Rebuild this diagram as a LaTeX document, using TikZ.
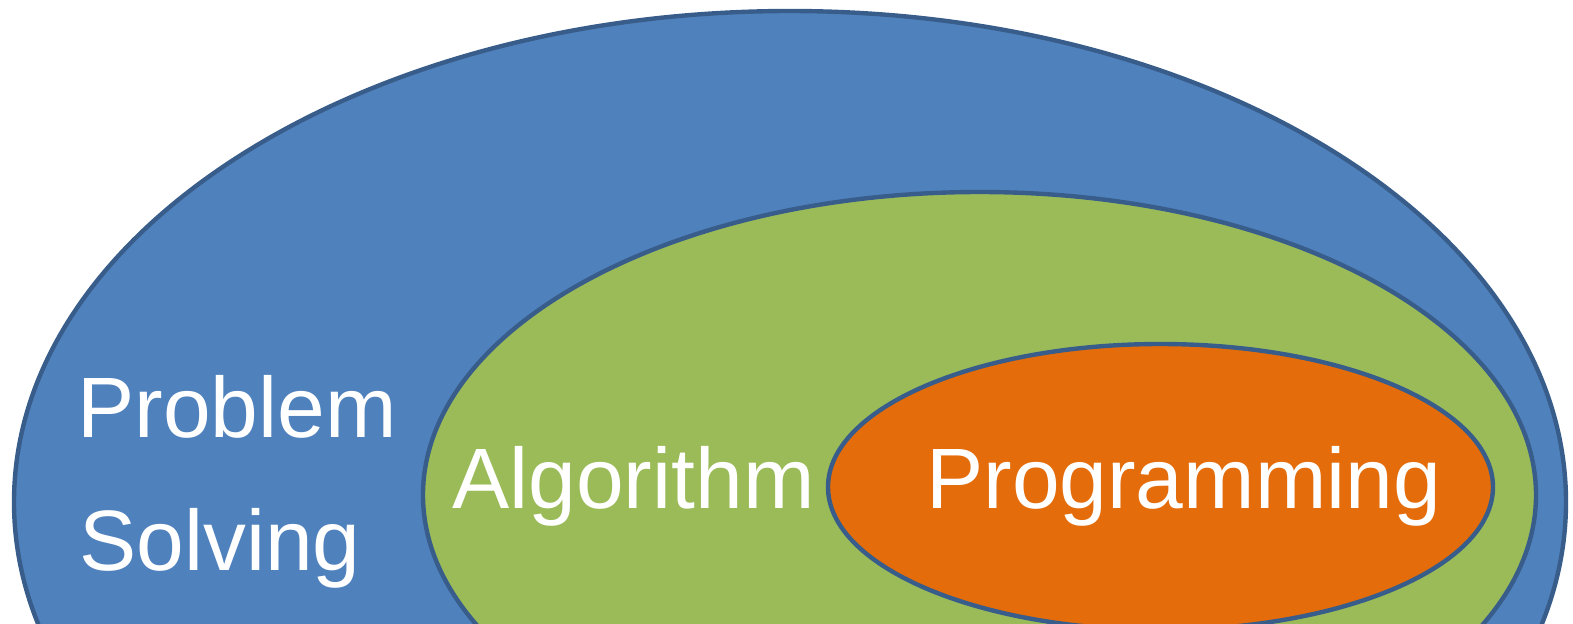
\documentclass[tikz,border=0pt]{standalone}
\usepackage{fontspec}
\setmainfont{Liberation Sans}
\usepackage{tikz}
\usetikzlibrary{positioning}
\definecolor{setblue}{RGB}{79,129,189}
\definecolor{setgreen}{RGB}{155,187,89}
\definecolor{setorange}{RGB}{228,108,10}
\definecolor{setborder}{RGB}{56,93,138}
\tikzset{region/.style={draw=setborder,line width=2.5pt}}
\tikzset{label/.style={text=white,font=\fontsize{48.8}{58}\selectfont,inner sep=0pt,anchor=base west}}
\begin{document}
\begin{tikzpicture}[x=0.02cm,y=-0.02cm]
  \useasboundingbox (0,0) rectangle (1573,623);
  \clip (0,0) rectangle (1573,623);

  % Sets
  \draw[region,fill=setblue] (790,502) ellipse [x radius=776, y radius=491];
  \draw[region,fill=setgreen] (979.5,495) ellipse [x radius=556.5, y radius=303];
  \draw[region,fill=setorange] (1160.5,487) ellipse [x radius=332.5, y radius=143];

  % Labels
  \node[label] (problem) at (77,437) {Problem};
  \node[label] (solving) at (79,570) {Solving};
  \node[label] (algorithm) at (452,508) {Algorithm};
  \node[label] (programming) at (926,508) {Programming};
\end{tikzpicture}
\end{document}
